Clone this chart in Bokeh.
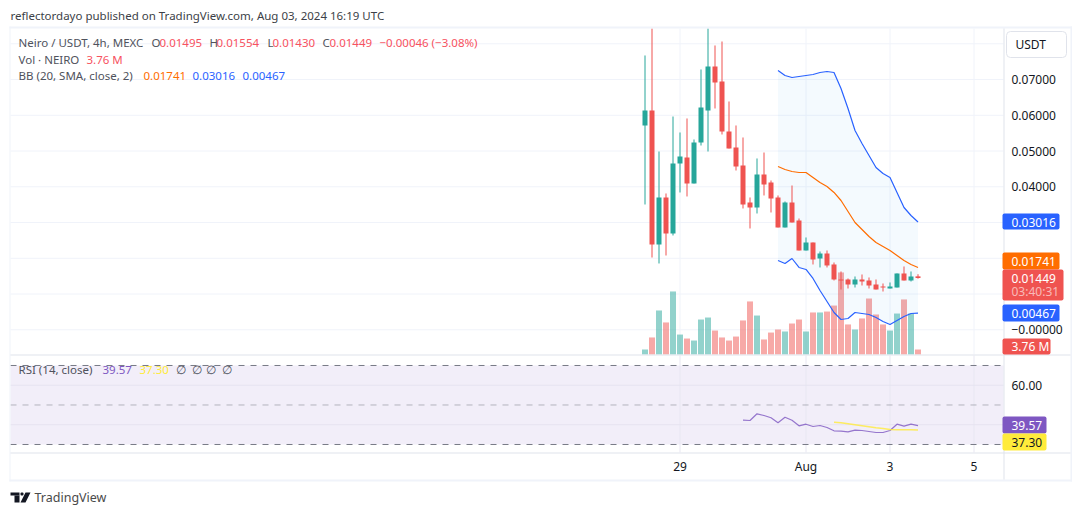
from bokeh.embed import file_html
from bokeh.models import BoxAnnotation, FixedTicker, Label, LinearAxis, PolyAnnotation, Range1d
from bokeh.plotting import figure
from bokeh.resources import INLINE

# 4h candles, newest last. The two wicks that leave the pane are cut at its top
bars = list(range(40))
opens = [0.05715, 0.06134, 0.02386, 0.03701, 0.02694, 0.04652, 0.04820, 0.04092, 0.05239, 0.06134,
         0.07365, 0.06945, 0.05547, 0.05099, 0.04596, 0.03561, 0.03421, 0.04344, 0.04120, 0.03701,
         0.02862, 0.03561, 0.03057, 0.02218, 0.02442, 0.01994, 0.02134, 0.01827, 0.01407, 0.01407,
         0.01267, 0.01407, 0.01379, 0.01267, 0.01211, 0.01155, 0.01183, 0.01575, 0.01379, 0.01495]
highs = [0.07673, 0.08428, 0.04987, 0.03813, 0.05966, 0.05519, 0.05911, 0.05323, 0.07281, 0.08428,
         0.07953, 0.08064, 0.06386, 0.05715, 0.05379, 0.03701, 0.04792, 0.04959, 0.04176, 0.03757,
         0.03589, 0.04036, 0.03113, 0.02582, 0.02442, 0.02190, 0.02218, 0.01883, 0.01631, 0.01435,
         0.01491, 0.01547, 0.01463, 0.01407, 0.01295, 0.01323, 0.01575, 0.01771, 0.01631, 0.01554]
lows = [0.03505, 0.02022, 0.01855, 0.02078, 0.02638, 0.03841, 0.03729, 0.04092, 0.05155, 0.04987,
        0.06190, 0.05463, 0.05071, 0.04456, 0.03393, 0.02834, 0.03253, 0.03757, 0.03281, 0.02862,
        0.02862, 0.03001, 0.02218, 0.02218, 0.01827, 0.01743, 0.01743, 0.01379, 0.01127, 0.01155,
        0.01183, 0.01239, 0.01155, 0.01127, 0.01071, 0.01155, 0.01183, 0.01379, 0.01351, 0.01430]
closes = [0.06134, 0.02386, 0.03701, 0.02694, 0.04652, 0.04848, 0.04092, 0.05239, 0.06218, 0.07365,
          0.06918, 0.05547, 0.05071, 0.04568, 0.03505, 0.03421, 0.04344, 0.04064, 0.03673, 0.02862,
          0.03561, 0.03001, 0.02218, 0.02442, 0.01966, 0.02134, 0.01799, 0.01407, 0.01379, 0.01267,
          0.01407, 0.01351, 0.01239, 0.01127, 0.01183, 0.01211, 0.01575, 0.01379, 0.01491, 0.01449]
volumes = [3.76, 12.8, 33.1, 24.1, 47.4, 15.0, 12.0, 10.5, 26.3, 27.8,
           18.0, 12.8, 10.5, 13.5, 25.6, 39.9, 29.3, 11.3, 16.5, 18.8,
           17.3, 23.3, 26.3, 17.3, 31.6, 31.6, 32.3, 36.8, 61.7, 22.6,
           18.8, 27.1, 42.1, 30.1, 22.6, 18.0, 30.8, 41.4, 30.8, 3.76]

bb_bars = bars[19:]
bb_upper = [0.07253, 0.07113, 0.07057, 0.07085, 0.07113, 0.07141, 0.07197, 0.07225, 0.07197, 0.06750,
            0.06190, 0.05575, 0.05211, 0.04876, 0.04540, 0.04372, 0.04260, 0.03841, 0.03421, 0.03197, 0.03016]
bb_basis = [0.04568, 0.04484, 0.04428, 0.04400, 0.04400, 0.04260, 0.04120, 0.04008, 0.03841, 0.03617,
            0.03309, 0.03001, 0.02806, 0.02610, 0.02442, 0.02330, 0.02218, 0.02078, 0.01938, 0.01827, 0.01741]
bb_lower = [0.01938, 0.01855, 0.01994, 0.01743, 0.01687, 0.01435, 0.01099, 0.00792, 0.00484, 0.00288,
            0.00316, 0.00484, 0.00456, 0.00428, 0.00344, 0.00232, 0.00148, 0.00260, 0.00372, 0.00456, 0.00467]

rsi_bars = bars[14:]
rsi = [42.30, 42.15, 45.54, 44.68, 43.52, 40.99, 43.82, 42.30, 39.47, 40.28, 39.11, 39.62, 38.61,
       36.94, 36.73, 36.43, 37.24, 37.09, 36.58, 36.08, 36.08, 37.09, 40.28, 39.27, 40.28, 39.57]
rsi_ma_bars = bars[27:]
rsi_ma = [41.29, 40.99, 40.48, 39.97, 39.47, 38.96, 38.46, 38.10, 37.59, 37.44, 37.44, 37.50, 37.30]

date_ticks = [5, 23, 35, 47]
date_labels = ["29", "Aug", "3", "5"]
price_ticks = [0.07, 0.06, 0.05, 0.04, 0.0]
price_labels = ["0.07000", "0.06000", "0.05000", "0.04000", "\u22120.00000"]
price_grid = [0.08, 0.07, 0.06, 0.05, 0.04, 0.03, 0.02, 0.01, 0.0]
rsi_grid = [60, 40]

UP = "#26a69a"
DOWN = "#ef5350"
BLUE = "#2962ff"
ORANGE = "#ff6d00"
PURPLE = "#7e57c2"
YELLOW = "#ffeb3b"
GRID = "#f0f3fa"
EDGE = "#e0e3eb"
TEXT = "#131722"
LEGEND = "#4f525c"
FONT = "Noto Sans"
SIZE = "11.5px"

# Pane limits in bar and value units
PANE_LEFT, PANE_RIGHT = -90.64, 51.21
PRICE_TOP, PRICE_BOTTOM = 0.08428, -0.00691
RSI_TOP, RSI_BOTTOM = 75.06, 25.95
AXIS_Y = -0.03432


def box(p, left, right, top, bottom, color, radius=0, line=None, level="annotation"):
    p.add_layout(BoxAnnotation(left=left, right=right, top=top, bottom=bottom,
                               left_units="canvas", right_units="canvas",
                               top_units="canvas", bottom_units="canvas",
                               fill_color=color, fill_alpha=1, line_color=line, line_alpha=1 if line else 0,
                               border_radius=radius, editable=False, level=level))


def text(p, x, y, s, color=LEGEND, size=SIZE, alpha=1.0):
    p.add_layout(Label(x=x, y=y, x_units="canvas", y_units="canvas", text=s, text_color=color,
                       text_font=FONT, text_font_size=size, text_baseline="middle", text_alpha=alpha))


def style_axis(axis):
    axis.axis_line_color = None
    axis.major_tick_line_color = None
    axis.minor_tick_line_color = None
    axis.major_label_text_color = TEXT
    axis.major_label_text_font = FONT
    axis.major_label_text_font_size = "12px"


# One frame over the whole canvas, the panes are separate y ranges inside it
p = figure(width=1072, height=507, x_range=Range1d(-92.07, 61.07), y_range=Range1d(-0.04971, 0.09211),
           y_axis_location="right", output_backend="svg", toolbar_location=None, min_border=0)
p.extra_y_ranges = {"volume": Range1d(-115.06, 266.21), "rsi": Range1d(-1.90, 254.81)}
p.outline_line_color = None
p.grid.visible = False

p.yaxis.fixed_location = PANE_RIGHT
p.yaxis.ticker = FixedTicker(ticks=price_ticks)
p.yaxis.major_label_overrides = dict(zip(price_ticks, price_labels))
p.yaxis.major_label_standoff = 2
style_axis(p.yaxis)

rsi_axis = LinearAxis(y_range_name="rsi", fixed_location=PANE_RIGHT, ticker=FixedTicker(ticks=[60]),
                      major_label_overrides={60: "60.00"}, major_label_standoff=2)
p.add_layout(rsi_axis, "right")
style_axis(rsi_axis)

p.xaxis.fixed_location = AXIS_Y
p.xaxis.ticker = FixedTicker(ticks=date_ticks)
p.xaxis.major_label_overrides = dict(zip(date_ticks, date_labels))
p.xaxis.major_label_standoff = 0
style_axis(p.xaxis)

# RSI band sits under everything
box(p, 10, 1003, 365, 444, "#f2eef9", level="underlay")

# Grid lines per pane
p.segment(date_ticks, PRICE_BOTTOM, date_ticks, PRICE_TOP, line_color=GRID, line_width=1)
p.segment(date_ticks, RSI_BOTTOM, date_ticks, RSI_TOP, line_color="#e8e7f2", line_width=1, y_range_name="rsi")
p.segment(PANE_LEFT, price_grid, PANE_RIGHT, price_grid, line_color=GRID, line_width=1)
p.segment(PANE_LEFT, rsi_grid, PANE_RIGHT, rsi_grid, line_color="#e6e3f0", line_width=1, y_range_name="rsi")
p.segment(PANE_LEFT, [70, 30], PANE_RIGHT, [70, 30], line_color="#787b86", line_dash="dashed", y_range_name="rsi")
p.segment(PANE_LEFT, [50], PANE_RIGHT, [50], line_color="#787b86", line_alpha=0.5, line_dash="dashed",
          y_range_name="rsi")

colors = [UP if c >= o else DOWN for o, c in zip(opens, closes)]
p.vbar(bars, 6 / 7, volumes, 0, color=colors, alpha=0.5, line_color=None, y_range_name="volume")
p.varea(bb_bars, bb_lower, bb_upper, fill_color="#2196f3", fill_alpha=0.05)
p.line(bb_bars, bb_upper, line_color=BLUE, line_width=1.2)
p.line(bb_bars, bb_lower, line_color=BLUE, line_width=1.2)
p.line(bb_bars, bb_basis, line_color=ORANGE, line_width=1.2)
p.segment(bars, lows, bars, highs, line_color=colors, line_width=1)
p.vbar(bars, 5 / 7, [max(o, c) for o, c in zip(opens, closes)], [min(o, c) for o, c in zip(opens, closes)],
       fill_color=colors, line_color=None)
p.line(rsi_bars, rsi, line_color=PURPLE, line_width=1.2, line_alpha=0.8, y_range_name="rsi")
p.line(rsi_ma_bars, rsi_ma, line_color=YELLOW, line_width=1.5, line_alpha=0.8, y_range_name="rsi")

# Frame
box(p, 9, 1072, 26, 28, GRID)
box(p, 9, 10, 26, 481, GRID)
box(p, 1070, 1072, 26, 481, GRID)
box(p, 9, 1072, 479, 481, GRID)
box(p, 1003, 1004, 28, 479, EDGE)
box(p, 10, 1070, 354, 355, EDGE)
box(p, 10, 1070, 452, 453, EDGE)

# Header
text(p, 10, 15, "reflectordayo published on TradingView.com, Aug 03, 2024 16:19 UTC", color="#3c3f47")
text(p, 18, 42, "Neiro / USDT, 4h, MEXC")
for lx, vx, lab, val in [(151, 159, "O", "0.01495"), (209, 216, "H", "0.01554"),
                         (267, 272, "L", "0.01430"), (322, 329, "C", "0.01449")]:
    text(p, lx, 42, lab)
    text(p, vx, 42, val, color="#f7525f")
text(p, 379, 42, "\u22120.00046 (\u22123.08%)", color="#f7525f")
text(p, 18, 59, "Vol \u00b7 NEIRO")
text(p, 86, 59, "3.76 M", color="#f7525f")
text(p, 18, 75, "BB (20, SMA, close, 2)")
text(p, 143, 75, "0.01741", color=ORANGE)
text(p, 192, 75, "0.03016", color=BLUE)
text(p, 242, 75, "0.00467", color=BLUE)

text(p, 18, 369, "RSI (14, close)")
text(p, 102, 369, "39.57", color=PURPLE)
text(p, 139, 369, "37.30", color=YELLOW)
for nx in [175, 191, 205, 221]:
    text(p, nx, 369, "\u2205")

# Scale button and last value tags
box(p, 1006, 1066, 31, 57, "white", radius=4, line=EDGE)
text(p, 1015, 44, "USDT", color=TEXT, size="12px")
box(p, 1002, 1059, 213, 229, BLUE, radius=2)
text(p, 1011, 221.5, "0.03016", color="white", size="12px")
box(p, 1002, 1059, 252, 269, ORANGE, radius=2)
text(p, 1011, 260.5, "0.01741", color="white", size="12px")
box(p, 1002, 1063, 269, 300, DOWN, radius=2)
text(p, 1011, 277.5, "0.01449", color="white", size="12px")
text(p, 1011, 291, "03:40:31", color="white", size="12px", alpha=0.6)
box(p, 1002, 1059, 304, 321, BLUE, radius=2)
text(p, 1011, 312.5, "0.00467", color="white", size="12px")
box(p, 1002, 1050, 338, 354, DOWN, radius=2)
text(p, 1011, 346, "3.76 M", color="white", size="12px")
box(p, 1002, 1046, 416, 433, PURPLE, radius=2)
text(p, 1011, 424.5, "39.57", color="white", size="12px")
box(p, 1002, 1046, 433, 450, YELLOW, radius=2)
text(p, 1011, 441.5, "37.30", color=TEXT, size="12px")

# TradingView logo
box(p, 10, 19, 492, 495, TEXT)
box(p, 14, 19, 495, 502, TEXT)
box(p, 20, 23, 492, 495, TEXT, radius=1)
p.add_layout(PolyAnnotation(xs=[20, 25, 30, 25], ys=[502, 492, 492, 502], xs_units="canvas", ys_units="canvas",
                            fill_color=TEXT, fill_alpha=1, line_color=None, editable=False))
text(p, 34, 497, "TradingView", color="#4a4a4a", size="12.5px")

open("out.html", "w").write(file_html(p, INLINE))
